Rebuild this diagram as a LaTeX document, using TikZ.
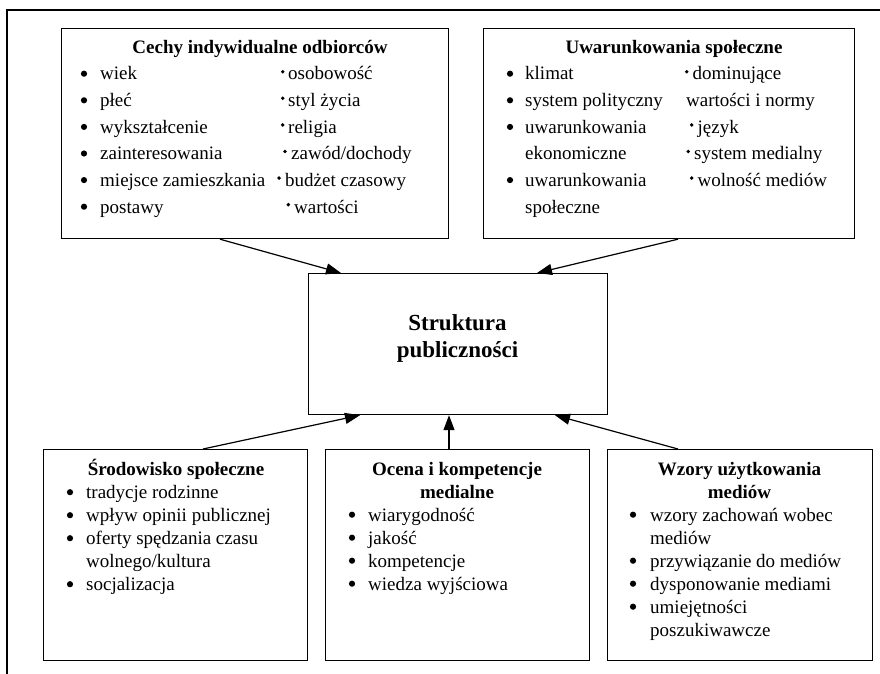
\documentclass[tikz,border=0pt]{standalone}
\usepackage{fontspec}
\setmainfont{Liberation Serif}
\usetikzlibrary{arrows.meta}
\newcommand\bigbul[2]{\fill ({#1},{#2-6.3}) circle (3.1pt);}
\newcommand\smbul[2]{\fill ({#1},{#2-8.3}) circle (1.9pt);}
\begin{document}
\begin{tikzpicture}[x=1pt,y=-1pt,
  box/.style={draw, line width=1.2pt, inner sep=0pt, anchor=north west},
  itm/.style={anchor=base west, inner sep=0pt, font=\fontsize{19}{23}\selectfont},
  ttl/.style={anchor=base, inner sep=0pt, font=\fontsize{19}{23}\selectfont\bfseries},
  big/.style={anchor=base, inner sep=0pt, font=\fontsize{23}{27}\selectfont\bfseries},
  arr/.style={line width=1.2pt, -{Triangle[length=15pt,width=11pt]}},
  frame/.style={line width=1.2pt}
]
\useasboundingbox (0,0) rectangle (880,674);
\draw[frame] (880,10) -- (7,10) -- (7,674);

% boxes
\node[box, minimum width=387pt, minimum height=210pt] (cechy) at (61,28) {};
\node[box, minimum width=371pt, minimum height=210pt] (uwar) at (483,28) {};
\node[box, minimum width=299pt, minimum height=141pt] (struk) at (308,273) {};
\node[box, minimum width=264pt, minimum height=211pt] (srod) at (43,449) {};
\node[box, minimum width=264pt, minimum height=211pt] (ocena) at (325,449) {};
\node[box, minimum width=265pt, minimum height=211pt] (wzory) at (607,449) {};

% box 1
\node[ttl] (t1) at (260,54) {Cechy indywidualne odbiorców};
\node[itm] (cl1) at (100,80) {wiek};               \bigbul{84}{80}
\node[itm] (cl2) at (100,106.6) {płeć};            \bigbul{84}{106.6}
\node[itm] (cl3) at (100,133.2) {wykształcenie};   \bigbul{84}{133.2}
\node[itm] (cl4) at (100,159.8) {zainteresowania}; \bigbul{84}{159.8}
\node[itm] (cl5) at (100,186.4) {miejsce zamieszkania}; \bigbul{84}{186.4}
\node[itm] (cl6) at (100,213) {postawy};           \bigbul{84}{213}
\node[itm] (cr1) at (288,80) {osobowość};          \smbul{282.7}{80}
\node[itm] (cr2) at (288,106.6) {styl życia};      \smbul{282.7}{106.6}
\node[itm] (cr3) at (288,133.2) {religia};         \smbul{282.7}{133.2}
\node[itm] (cr4) at (291,159.8) {zawód/dochody};   \smbul{285}{159.8}
\node[itm] (cr5) at (285,186.4) {budżet czasowy};  \smbul{279}{186.4}
\node[itm] (cr6) at (294,213) {wartości};          \smbul{288.3}{213}

% box 2
\node[ttl] (t2) at (674,54) {Uwarunkowania społeczne};
\node[itm] (ul1) at (525,80) {klimat};             \bigbul{510}{80}
\node[itm] (ul2) at (525,106.6) {system polityczny}; \bigbul{510}{106.6}
\node[itm] (ul3) at (525,133.2) {uwarunkowania};   \bigbul{510}{133.2}
\node[itm] (ul4) at (525,159.8) {ekonomiczne};
\node[itm] (ul5) at (525,186.4) {uwarunkowania};   \bigbul{510}{186.4}
\node[itm] (ul6) at (525,213) {społeczne};
\node[itm] (ur1) at (692.5,80) {dominujące};       \smbul{686.7}{80}
\node[itm] (ur2) at (686,106.6) {wartości i normy};
\node[itm] (ur3) at (697.5,133.2) {język};         \smbul{691.7}{133.2}
\node[itm] (ur4) at (694,159.8) {system medialny}; \smbul{688.3}{159.8}
\node[itm] (ur5) at (697.5,186.4) {wolność mediów}; \smbul{691.7}{186.4}

% center
\node[big] (s1) at (457.5,330) {Struktura};
\node[big] (s2) at (457.5,357) {publiczności};

% box 3
\node[ttl] (t3) at (176,475) {Środowisko społeczne};
\node[itm] (a1) at (86,498.5) {tradycje rodzinne};        \bigbul{70}{498.5}
\node[itm] (a2) at (86,521.5) {wpływ opinii publicznej};  \bigbul{70}{521.5}
\node[itm] (a3) at (86,544.5) {oferty spędzania czasu};   \bigbul{70}{544.5}
\node[itm] (a4) at (86,567.5) {wolnego/kultura};
\node[itm] (a5) at (86,590.5) {socjalizacja};             \bigbul{70}{590.5}

% box 4
\node[ttl] (t4a) at (457,475) {Ocena i kompetencje};
\node[ttl] (t4b) at (457,498) {medialne};
\node[itm] (b1) at (368,521) {wiarygodność};      \bigbul{352}{521}
\node[itm] (b2) at (368,544) {jakość};            \bigbul{352}{544}
\node[itm] (b3) at (368,567) {kompetencje};       \bigbul{352}{567}
\node[itm] (b4) at (368,590) {wiedza wyjściowa};  \bigbul{352}{590}

% box 5
\node[ttl] (t5a) at (739.5,475) {Wzory użytkowania};
\node[ttl] (t5b) at (739.5,498) {mediów};
\node[itm] (w1) at (650,521) {wzory zachowań wobec};   \bigbul{633}{521}
\node[itm] (w2) at (650,544) {mediów};
\node[itm] (w3) at (650,567) {przywiązanie do mediów}; \bigbul{633}{567}
\node[itm] (w4) at (650,590) {dysponowanie mediami};   \bigbul{633}{590}
\node[itm] (w5) at (650,613) {umiejętności};           \bigbul{633}{613}
\node[itm] (w6) at (650,636) {poszukiwawcze};

% arrows
\draw[arr] ([xshift=159pt]cechy.south west) -- ([xshift=33pt]struk.north west);
\draw[arr] ([xshift=195pt]uwar.south west) -- ([xshift=229pt]struk.north west);
\draw[arr] ([xshift=160pt]srod.north west) -- ([xshift=52pt]struk.south west);
\draw[arr] ([xshift=124pt]ocena.north west) -- ([xshift=141pt]struk.south west);
\draw[arr] ([xshift=71pt]wzory.north west) -- ([xshift=247pt]struk.south west);
\end{tikzpicture}
\end{document}
